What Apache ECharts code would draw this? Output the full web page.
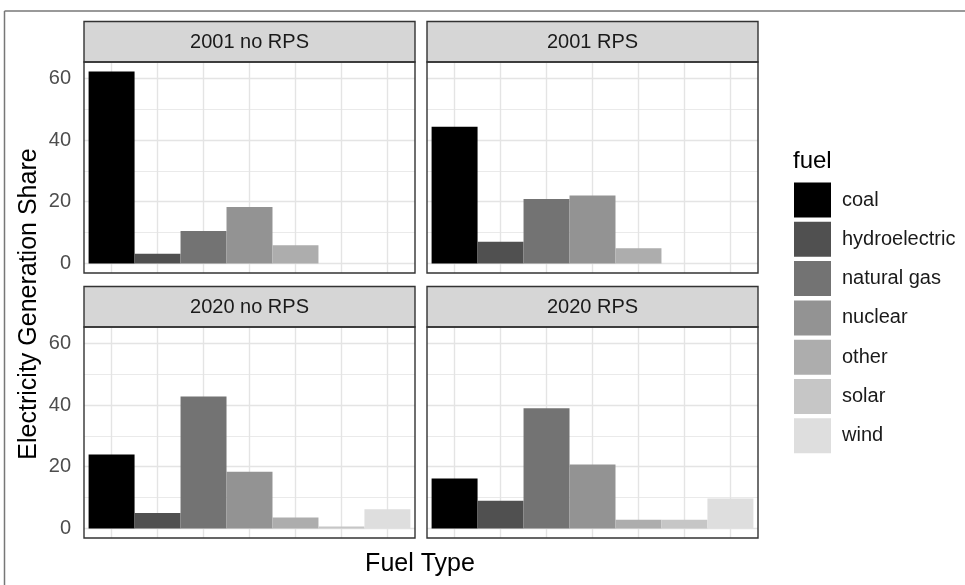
<!DOCTYPE html>
<html><head><meta charset="utf-8">
<script src="https://cdn.jsdelivr.net/npm/echarts@6/dist/echarts.min.js"></script>
<style>html,body{margin:0;padding:0;background:#fff}#c{width:965px;height:585px}</style>
</head><body><div id="c"></div>
<script>
// ---- data ----
const fuels = ['coal', 'hydroelectric', 'natural gas', 'nuclear', 'other', 'solar', 'wind'];
const panels = ['2001 no RPS', '2001 RPS', '2020 no RPS', '2020 RPS'];
const share2001NoRPS = [62.2, 3.1, 10.5, 18.3, 5.9, 0, 0];
const share2001RPS   = [44.3, 7.0, 20.9, 22.0, 4.9, 0, 0];
const share2020NoRPS = [24.0, 5.0, 42.8, 18.4, 3.5, 0.6, 6.2];
const share2020RPS   = [16.2, 9.0, 39.0, 20.7, 2.8, 2.8, 9.7];
const yTicks = [0, 20, 40, 60];
const yGridValues = [0, 10, 20, 30, 40, 50, 60];
const fuelColors = ['#000000', '#505050', '#737373', '#939393', '#ADADAD', '#C6C6C6', '#DEDEDE'];

const panelData = [share2001NoRPS, share2001RPS, share2020NoRPS, share2020RPS];

// ---- layout ----
const FONT = "'Liberation Sans', Arial, sans-serif";
const colLeft = [84, 427];
const rowTop = [62, 327];
const PW = 331, PH = 211, STRIP = 40.5;
const yMin = -3.11, yMax = 65.31;

const grids = [], xAxes = [], yAxes = [], series = [], graphics = [];
panels.forEach((p, i) => {
  const c = i % 2, r = Math.floor(i / 2);
  const left = colLeft[c], top = rowTop[r];
  grids.push({ left: left, top: top, width: PW, height: PH, containLabel: false });
  xAxes.push({ type: 'value', gridIndex: i, min: 0.4, max: 7.6, show: false });
  yAxes.push({
    type: 'value', gridIndex: i, min: yMin, max: yMax,
    axisLine: { show: false }, axisTick: { show: false }, splitLine: { show: false },
    axisLabel: {
      show: c === 0, customValues: yTicks, margin: 13, fontSize: 20, color: '#4D4D4D', fontFamily: FONT,
      formatter: v => (yTicks.indexOf(v) >= 0 ? String(v) : '')
    }
  });
  fuels.forEach((f, k) => {
    const s = {
      type: 'bar', name: f, xAxisIndex: i, yAxisIndex: i, stack: 'p' + i,
      barWidth: '100%', data: [[k + 1, panelData[i][k]]],
      itemStyle: { color: fuelColors[k] }, z: 2, silent: true
    };
    if (k === 0) {
      const ml = yGridValues.map(v => ({ yAxis: v, lineStyle: { width: v % 20 === 0 ? 1.4 : 0.8 } }))
        .concat(fuels.map((_, j) => ({ xAxis: j + 1, lineStyle: { width: 1.4 } })));
      s.markLine = {
        silent: true, symbol: ['none', 'none'], label: { show: false }, z: 1,
        lineStyle: { color: '#E4E4E4', type: 'solid' }, emphasis: { disabled: true },
        data: ml, animation: false
      };
    }
    series.push(s);
  });
  // strip
  graphics.push({ type: 'rect', shape: { x: left, y: top - STRIP, width: PW, height: STRIP },
    style: { fill: '#D6D6D6', stroke: '#333333', lineWidth: 1.4 }, z: 50 });
  graphics.push({ type: 'text', x: left + PW / 2, y: top - STRIP / 2 + 1,
    style: { text: p, fontSize: 20, fontFamily: FONT, fill: '#1A1A1A', align: 'center', verticalAlign: 'middle' }, z: 51 });
  // panel border
  graphics.push({ type: 'rect', shape: { x: left, y: top, width: PW, height: PH },
    style: { fill: null, stroke: '#333333', lineWidth: 1.4 }, z: 50 });
});

// frame
graphics.push({ type: 'line', shape: { x1: 4.5, y1: 11, x2: 965, y2: 11 }, style: { stroke: '#777777', lineWidth: 1.5 } });
graphics.push({ type: 'line', shape: { x1: 4.5, y1: 11, x2: 4.5, y2: 585 }, style: { stroke: '#777777', lineWidth: 1.5 } });
// axis titles
graphics.push({ type: 'text', x: 29, y: 304, rotation: Math.PI / 2,
  style: { text: 'Electricity Generation Share', fontSize: 25, fontFamily: FONT, fill: '#000', align: 'center', verticalAlign: 'middle' } });
graphics.push({ type: 'text', x: 420, y: 564,
  style: { text: 'Fuel Type', fontSize: 25, fontFamily: FONT, fill: '#000', align: 'center', verticalAlign: 'middle' } });
// legend title
graphics.push({ type: 'text', x: 793, y: 161,
  style: { text: 'fuel', fontSize: 24, fontFamily: FONT, fill: '#000', align: 'left', verticalAlign: 'middle' } });

const chart = echarts.init(document.getElementById('c'), null, { renderer: 'canvas' });
chart.setOption({
  animation: false,
  textStyle: { fontFamily: FONT },
  grid: grids, xAxis: xAxes, yAxis: yAxes, series: series,
  legend: {
    data: fuels, orient: 'vertical', left: 794, top: 182.5, padding: 0, icon: 'rect',
    itemWidth: 37, itemHeight: 35, itemGap: 4.3, selectedMode: false,
    textStyle: { fontSize: 20, color: '#1A1A1A', fontFamily: FONT, padding: [0, 0, 0, 6] }
  },
  graphic: graphics
});
</script>
</body></html>
